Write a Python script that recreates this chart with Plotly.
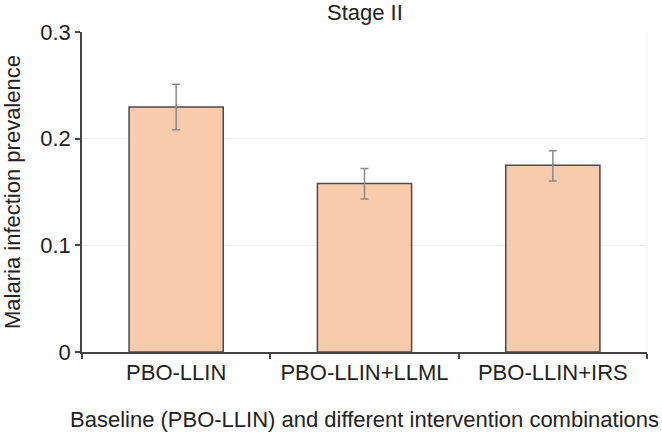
import plotly.graph_objects as go

categories = ["PBO-LLIN", "PBO-LLIN+LLML", "PBO-LLIN+IRS"]
prevalence = [0.2297, 0.158, 0.175]
err_upper = [0.251, 0.172, 0.1887]
err_lower = [0.2084, 0.1434, 0.1603]

plus = [u - v for u, v in zip(err_upper, prevalence)]
minus = [v - l for v, l in zip(prevalence, err_lower)]

FONT = "Liberation Sans, Arial, Helvetica, sans-serif"
FS = 22

fig = go.Figure(go.Bar(
    x=categories, y=prevalence, width=0.5,
    marker=dict(color="#F8CBAD", line=dict(color="#4a4a4a", width=1.5)),
    error_y=dict(type="data", array=plus, arrayminus=minus, symmetric=False,
                 color="#8a8a8a", thickness=1.5, width=4),
))

fig.update_layout(
    width=662, height=439,
    margin=dict(l=82, r=15, t=32, b=87),
    paper_bgcolor="white", plot_bgcolor="white",
    font=dict(family=FONT, size=FS, color="#222"),
    showlegend=False,
    xaxis=dict(
        title=dict(text="Baseline (PBO-LLIN) and different intervention combinations",
                   font=dict(size=22), standoff=27),
        automargin=False,
        showline=True, linecolor="#444", linewidth=1.5,
        ticks="outside", tickson="boundaries", ticklen=5, tickcolor="#444", tickwidth=1.5,
        showgrid=False, tickfont=dict(size=FS),
    ),
    yaxis=dict(
        title=dict(text="Malaria infection prevalence", font=dict(size=FS), standoff=14),
        automargin=False,
        range=[0, 0.3], tickvals=[0, 0.1, 0.2, 0.3], ticktext=["0", "0.1", "0.2", "0.3"],
        showline=True, linecolor="#444", linewidth=1.5,
        ticks="outside", ticklen=5, tickcolor="#444", tickwidth=1.5,
        showgrid=True, gridcolor="#efefef", gridwidth=1, zeroline=False,
        tickfont=dict(size=FS),
    ),
    annotations=[dict(text="Stage II", xref="paper", yref="paper", x=0.5, y=1,
                      xanchor="center", yanchor="middle", yshift=20, showarrow=False,
                      font=dict(size=FS, color="#222"))],
    shapes=[dict(type="line", xref="paper", yref="paper", x0=1, x1=1, y0=0, y1=1,
                 line=dict(color="#efefef", width=1))],
)

fig.write_html("out.html", config={"displayModeBar": False},
               post_script="document.body.style.margin='0';document.body.style.overflow='hidden';")
